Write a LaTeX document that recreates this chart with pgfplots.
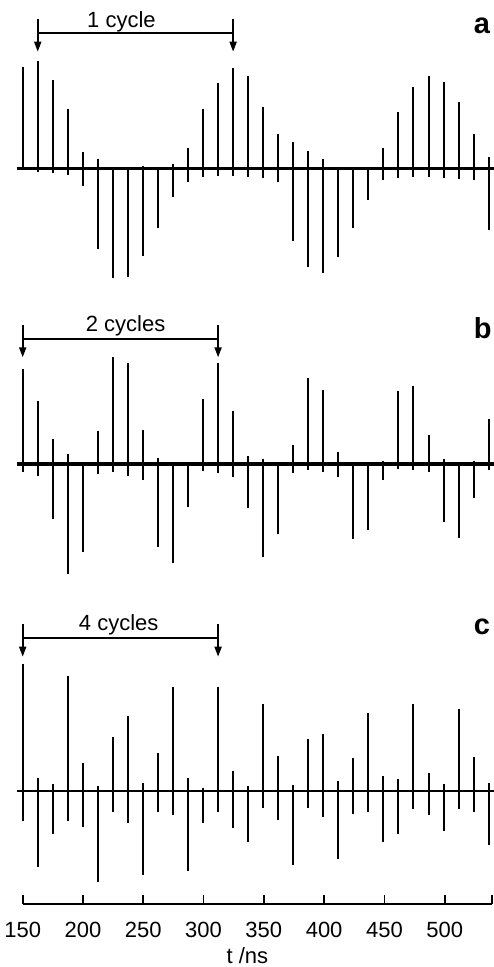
\documentclass[border=0pt]{standalone}
\usepackage{fontspec}
\setmainfont{Liberation Sans}
\usepackage{pgfplots}
\pgfplotsset{compat=1.18}
\usepackage{pgfplotstable}
\usetikzlibrary{arrows.meta}

\pgfplotstableread{
t hi lo
150.00 101.6 -1.7
162.47 107.3 -3.7
174.93 88.3 -5.0
187.40 59.3 -6.7
199.86 16.3 -17.4
212.33 9.3 -80.7
224.80 0.0 -109.7
237.26 0.0 -108.7
249.73 2.6 -87.7
262.19 0.0 -59.7
274.66 4.3 -28.7
287.13 20.3 -13.7
299.59 59.3 -8.7
312.06 85.3 -7.7
324.52 100.3 -7.7
336.99 92.3 -8.7
349.46 61.3 -9.7
361.92 34.3 -13.7
374.39 26.3 -72.7
386.85 17.3 -98.7
399.32 9.3 -104.7
411.79 0.0 -88.7
424.25 0.0 -59.7
436.72 0.0 -31.7
449.18 20.3 -11.7
461.65 56.3 -9.7
474.12 81.3 -8.7
486.58 92.3 -8.7
499.05 86.3 -9.7
511.51 66.3 -10.7
523.98 34.3 -11.7
536.45 11.3 -61.7
}\dataA

\pgfplotstableread{
t hi lo
150.00 94.7 -8.3
162.47 63.0 -11.7
174.93 25.3 -55.0
187.40 10.0 -110.3
199.86 0.7 -88.3
212.33 33.0 -10.3
224.80 106.7 -7.7
237.26 100.7 -11.7
249.73 34.0 -16.0
262.19 5.7 -82.7
274.66 0.7 -98.7
287.13 1.7 -42.7
299.59 65.0 -6.7
312.06 101.3 -9.3
324.52 53.0 -12.7
336.99 8.3 -43.7
349.46 5.3 -92.7
361.92 0.0 -70.0
374.39 19.0 -9.3
386.85 86.0 -6.0
399.32 74.0 -8.3
411.79 12.0 -13.3
424.25 0.7 -75.0
436.72 0.7 -66.0
449.18 3.0 -16.0
461.65 73.3 -5.0
474.12 78.3 -6.0
486.58 29.0 -7.7
499.05 5.0 -57.7
511.51 1.7 -73.7
523.98 3.0 -33.7
536.45 44.7 -6.0
}\dataB

\pgfplotstableread{
t hi lo
150.00 126.7 -30.0
162.47 13.3 -75.7
174.93 6.7 -43.3
187.40 115.3 -29.7
199.86 28.3 -35.7
212.33 5.0 -90.7
224.80 54.3 -21.3
237.26 75.3 -31.7
249.73 7.7 -84.0
262.19 37.7 -21.3
274.66 104.3 -24.0
287.13 13.3 -80.0
299.59 2.7 -31.7
312.06 103.7 -21.3
324.52 20.0 -36.7
336.99 5.0 -50.7
349.46 86.7 -16.7
361.92 35.3 -29.0
374.39 6.0 -74.0
386.85 51.7 -17.3
399.32 56.7 -26.3
411.79 10.3 -68.0
424.25 32.7 -23.0
436.72 77.7 -21.3
449.18 15.0 -51.3
461.65 11.7 -43.3
474.12 86.7 -18.3
486.58 18.3 -24.0
499.05 6.7 -40.0
511.51 81.7 -18.0
523.98 33.7 -21.3
536.45 8.3 -54.0
}\dataC

\newcommand{\lblfont}{\fontsize{22}{24}\selectfont}
\newcommand{\panelfont}{\fontsize{29}{30}\selectfont\bfseries}

\pgfplotsset{
  panel/.style={x=1.2057pt, y=1pt, xmin=150, xmax=539, clip=false, anchor=south west},
  spike/.style={ycomb, black, line width=2pt, no markers},
  base/.style={black, line width=3.2pt, no markers},
}

\begin{document}
\begin{tikzpicture}
\useasboundingbox (0,0) rectangle (493pt,967pt);

% panel a
\begin{axis}[panel, hide axis, ymin=-120, ymax=150, at={(22.7pt,678.7pt)}]
\addplot[base] coordinates {(145,0) (541,0)};
\addplot[spike] table[x=t, y=hi] {\dataA};
\addplot[spike] table[x=t, y=lo] {\dataA};
\draw[line width=1.8pt] (axis cs:162.47,135.6) -- (axis cs:324.52,135.6);
\draw[line width=1.8pt, -{Triangle[length=10pt,width=7pt]}] (axis cs:162.47,149) -- (axis cs:162.47,116.6);
\draw[line width=1.8pt, -{Triangle[length=10pt,width=7pt]}] (axis cs:324.52,149) -- (axis cs:324.52,116.6);
\node[anchor=base, font=\lblfont, inner sep=0pt] at (axis cs:231.9,140.6) {1 cycle};
\node[anchor=base west, font=\panelfont, inner sep=0pt] at (axis cs:524.0,135) {a};
\end{axis}

% panel b
\begin{axis}[panel, hide axis, ymin=-120, ymax=150, at={(22.7pt,383pt)}]
\addplot[base] coordinates {(145,0) (541,0)};
\addplot[spike] table[x=t, y=hi] {\dataB};
\addplot[spike] table[x=t, y=lo] {\dataB};
\draw[line width=1.8pt] (axis cs:150,125) -- (axis cs:312.06,125);
\draw[line width=1.8pt, -{Triangle[length=10pt,width=7pt]}] (axis cs:150,139) -- (axis cs:150,106.7);
\draw[line width=1.8pt, -{Triangle[length=10pt,width=7pt]}] (axis cs:312.06,139) -- (axis cs:312.06,106.7);
\node[anchor=base, font=\lblfont, inner sep=0pt] at (axis cs:235.3,132.3) {2 cycles};
\node[anchor=base west, font=\panelfont, inner sep=0pt] at (axis cs:524.0,125) {b};
\end{axis}

% panel c with time axis
\begin{axis}[panel, ymin=-113, ymax=170, at={(22.7pt,63pt)},
  axis x line*=bottom, axis y line=none,
  xtick={150,200,250,300,350,400,450,500},
  extra x ticks={539}, extra x tick labels={},
  tick align=inside, major tick length=9pt,
  x axis line style={line width=1.8pt},
  every tick/.style={line width=1.8pt, black},
  /pgf/number format/assume math mode=true,
  xticklabel style={anchor=base, yshift=-33.3pt, font=\lblfont},
]
\addplot[base, line width=2.8pt] coordinates {(145,0) (541,0)};
\addplot[spike] table[x=t, y=hi] {\dataC};
\addplot[spike] table[x=t, y=lo] {\dataC};
\draw[line width=1.8pt] (axis cs:150,153.3) -- (axis cs:312.06,153.3);
\draw[line width=1.8pt, -{Triangle[length=10pt,width=7pt]}] (axis cs:150,166.7) -- (axis cs:150,134.3);
\draw[line width=1.8pt, -{Triangle[length=10pt,width=7pt]}] (axis cs:312.06,166.7) -- (axis cs:312.06,134.3);
\node[anchor=base, font=\lblfont, inner sep=0pt] at (axis cs:229.6,160) {4 cycles};
\node[anchor=base west, font=\panelfont, inner sep=0pt] at (axis cs:524.0,156) {c};
\node[anchor=base, font=\lblfont, inner sep=0pt] at (axis cs:336.4,-172) {t /ns};
\end{axis}
\end{tikzpicture}
\end{document}
